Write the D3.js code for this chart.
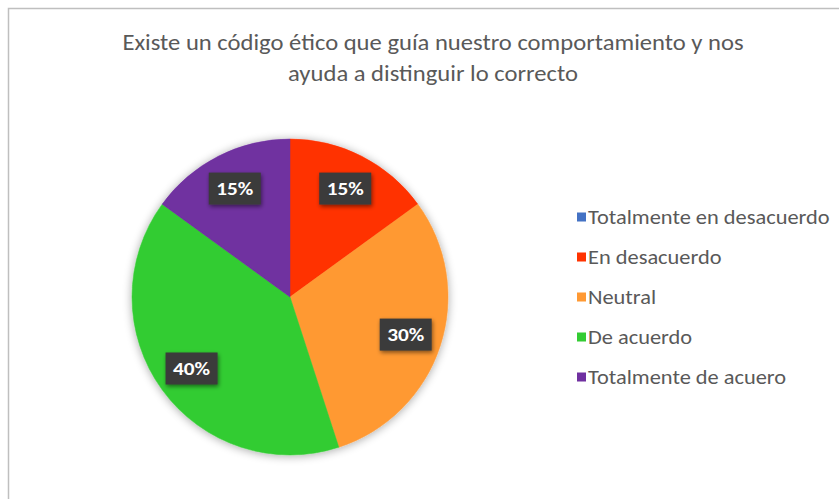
<!DOCTYPE html>
<html>
<head>
<meta charset="utf-8">
<script src="https://cdn.jsdelivr.net/npm/d3@7"></script>
<style>
  html, body { margin: 0; padding: 0; background: #fff; }
  svg { display: block; }
</style>
</head>
<body>
<svg id="chart" width="839" height="499"></svg>
<script>
// Survey answers and their shares (percent)
const categories = [
  "Totalmente en desacuerdo",
  "En desacuerdo",
  "Neutral",
  "De acuerdo",
  "Totalmente de acuero"
];
const values = [0, 15, 30, 40, 15];
const colors = ["#4472C4", "#FF3300", "#FF9933", "#33CC33", "#7030A0"];
const titleLines = [
  "Existe un código ético que guía nuestro comportamiento y nos",
  "ayuda a distinguir lo correcto"
];

const W = 839, H = 499;
const svg = d3.select("#chart");
const font = "Carlito, Lato, 'Open Sans', sans-serif";
const sx = 1.12; // horizontal stretch applied to the text

const defs = svg.append("defs");
const pieShadow = defs.append("filter").attr("id", "pieShadow")
  .attr("x", "-20%").attr("y", "-20%").attr("width", "140%").attr("height", "140%");
pieShadow.append("feGaussianBlur").attr("in", "SourceAlpha").attr("stdDeviation", 5).attr("result", "b");
pieShadow.append("feOffset").attr("in", "b").attr("dx", 0).attr("dy", 1).attr("result", "o");
pieShadow.append("feComponentTransfer").attr("in", "o").attr("result", "s")
  .append("feFuncA").attr("type", "linear").attr("slope", 0.35);
const pm = pieShadow.append("feMerge");
pm.append("feMergeNode").attr("in", "s");
pm.append("feMergeNode").attr("in", "SourceGraphic");

const boxShadow = defs.append("filter").attr("id", "boxShadow")
  .attr("x", "-30%").attr("y", "-30%").attr("width", "160%").attr("height", "160%");
boxShadow.append("feGaussianBlur").attr("in", "SourceAlpha").attr("stdDeviation", 2).attr("result", "b");
boxShadow.append("feOffset").attr("in", "b").attr("dx", 1).attr("dy", 2).attr("result", "o");
boxShadow.append("feComponentTransfer").attr("in", "o").attr("result", "s")
  .append("feFuncA").attr("type", "linear").attr("slope", 0.5);
const bm = boxShadow.append("feMerge");
bm.append("feMergeNode").attr("in", "s");
bm.append("feMergeNode").attr("in", "SourceGraphic");

// Chart frame
svg.append("rect")
  .attr("x", 8.5).attr("y", 8.5)
  .attr("width", W + 20).attr("height", H + 20)
  .attr("fill", "#fff").attr("stroke", "#bfbfbf").attr("stroke-width", 1.5);

// Title
svg.append("g").selectAll("text")
  .data(titleLines)
  .join("text")
  .attr("transform", (d, i) => `translate(433,${50 + i * 31}) scale(${sx},1)`)
  .attr("text-anchor", "middle")
  .attr("font-family", font)
  .attr("font-size", 22)
  .attr("fill", "#595959")
  .text(d => d);

// Pie
const cx = 290, cy = 297, r = 158;
const pie = d3.pie().sort(null).value(d => d.v);
const arcs = pie(categories.map((c, i) => ({ c, v: values[i], col: colors[i] })));
const arc = d3.arc().innerRadius(0).outerRadius(r);
const labelArc = d3.arc().innerRadius(r * 0.77).outerRadius(r * 0.77);

const g = svg.append("g").attr("transform", `translate(${cx},${cy})`);
g.append("g").attr("filter", "url(#pieShadow)")
  .selectAll("path")
  .data(arcs.filter(d => d.data.v > 0))
  .join("path")
  .attr("d", arc)
  .attr("fill", d => d.data.col)
  .attr("stroke", d => d.data.col)
  .attr("stroke-width", 0.5);

const lab = g.append("g").selectAll("g")
  .data(arcs.filter(d => d.data.v > 0))
  .join("g")
  .attr("transform", d => `translate(${labelArc.centroid(d)})`);
lab.append("rect")
  .attr("x", -26).attr("y", -16)
  .attr("width", 52).attr("height", 32)
  .attr("fill", "#3a3a3a")
  .attr("filter", "url(#boxShadow)");
lab.append("text")
  .attr("transform", `scale(${sx},1)`)
  .attr("text-anchor", "middle")
  .attr("dy", "0.35em")
  .attr("font-family", font)
  .attr("font-size", 19)
  .attr("font-weight", "bold")
  .attr("fill", "#ffffff")
  .text(d => d.data.v + "%");

// Legend
const legend = svg.append("g").attr("transform", "translate(577,217)");
const li = legend.selectAll("g")
  .data(categories)
  .join("g")
  .attr("transform", (d, i) => `translate(0,${i * 40})`);
li.append("rect")
  .attr("x", 0).attr("y", -4.5)
  .attr("width", 9).attr("height", 9)
  .attr("fill", (d, i) => colors[i]);
li.append("text")
  .attr("transform", `translate(11,0) scale(${sx},1)`)
  .attr("dy", "0.35em")
  .attr("font-family", font)
  .attr("font-size", 20)
  .attr("fill", "#595959")
  .text(d => d);
</script>
</body>
</html>
